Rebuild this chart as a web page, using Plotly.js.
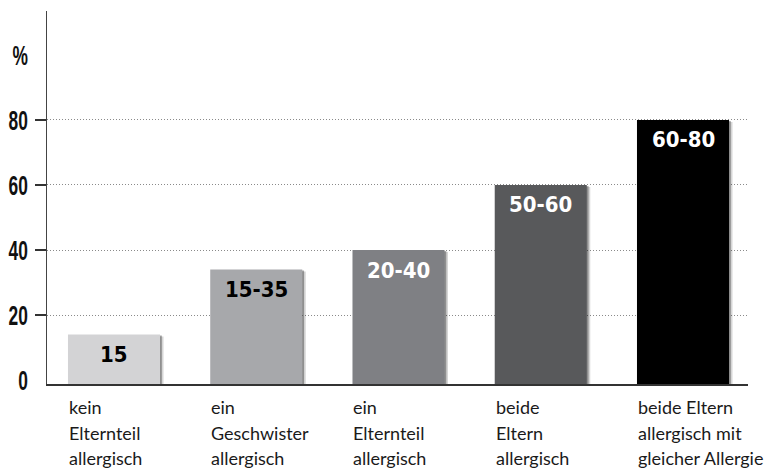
<!DOCTYPE html>
<html>
<head>
<meta charset="utf-8">
<script src="https://cdn.plot.ly/plotly-3.0.1.min.js"></script>
<style>
  html, body { margin: 0; padding: 0; background: #fff; }
  #chart { width: 780px; height: 469px; }
</style>
</head>
<body>
<div id="chart"></div>
<script>
// ---- data ----
const categories = [
  "kein<br>Elternteil<br>allergisch",
  "ein<br>Geschwister<br>allergisch",
  "ein<br>Elternteil<br>allergisch",
  "beide<br>Eltern<br>allergisch",
  "beide Eltern<br>allergisch mit<br>gleicher Allergie"
];
const values = [14, 34, 40, 60, 80];
const barLabels = ["15", "15-35", "20-40", "50-60", "60-80"];
const barColors = ["#d3d3d5", "#a7a8ab", "#7f8084", "#58595b", "#000000"];
const labelColors = ["#000000", "#000000", "#ffffff", "#ffffff", "#ffffff"];
const gridTickVals = [20, 40, 60, 80];
const gridTickText = ["20", "40", "60", "80"];
const extraTickVals = [0, 100];
const extraTickText = ["0", "%"];

// ---- geometry (styles) ----
const xs = values.map((_, i) => i);
const barW = 0.647;
const off = -barW / 2;
const pxX = 1 / 142.25;
const pxY = 1 / 3.25;
const yMin = -1.2, yMax = 113.5;
const shBase = -3;

const shadow1 = {
  type: "bar", x: xs, y: values.map(v => v - 2 * pxY - shBase), base: shBase,
  width: barW, offset: off + 3.5 * pxX,
  marker: { color: "rgba(0,0,0,0.16)", line: { width: 0 } },
  hoverinfo: "skip", showlegend: false
};
const shadow2 = {
  type: "bar", x: xs, y: values.map(v => v - 1 * pxY - shBase), base: shBase,
  width: barW, offset: off + 1.8 * pxX,
  marker: { color: "rgba(0,0,0,0.33)", line: { width: 0 } },
  hoverinfo: "skip", showlegend: false
};
const bars = {
  type: "bar", x: xs, y: values.map(v => v - yMin), base: yMin,
  width: barW, offset: off,
  marker: { color: barColors, line: { width: 0 } },
  hoverinfo: "skip", showlegend: false
};
const dummy = {
  type: "scatter", x: [0], y: [0], yaxis: "y2", mode: "markers",
  marker: { opacity: 0 }, hoverinfo: "skip", showlegend: false
};

const annotations = [];
values.forEach((v, i) => {
  annotations.push({
    x: i, y: v, xref: "x", yref: "y", text: barLabels[i], showarrow: false,
    yanchor: "middle", yshift: -20,
    font: { family: "DejaVu Sans Condensed, sans-serif", size: 22, color: labelColors[i], weight: "bold" }
  });
  categories[i].split("<br>").forEach((line, j) => {
    annotations.push({
      x: i + off, y: 0, xref: "x", yref: "paper", text: line, showarrow: false,
      xanchor: "left", yanchor: "middle", yshift: -23 - j * 25.7, xshift: -1,
      font: { family: "Lato, sans-serif", size: 18, color: "#1a1a1a" }
    });
  });
});

const tickFont = { family: "Liberation Sans, Arial, sans-serif", size: 28, color: "#111", weight: "bold" };

const layout = {
  width: 780, height: 469,
  margin: { l: 47, r: 32, t: 11, b: 85 },
  paper_bgcolor: "#fff", plot_bgcolor: "#fff",
  barmode: "overlay",
  xaxis: {
    range: [(47 - 114) / 142.25, (748 - 114) / 142.25],
    showticklabels: false, ticks: "", showgrid: false, zeroline: false,
    showline: true, linecolor: "#333", linewidth: 1.5
  },
  yaxis: {
    range: [yMin, yMax],
    tickvals: gridTickVals, ticktext: gridTickText,
    ticks: "outside", ticklen: 11, tickwidth: 1.5, tickcolor: "#333",
    ticklabelstandoff: 1,
    tickfont: tickFont,
    showgrid: true, gridcolor: "#8a8a8a", griddash: "1px,2px", gridwidth: 1,
    zeroline: false, showline: true, linecolor: "#444", linewidth: 1.5
  },
  yaxis2: {
    overlaying: "y", side: "left", range: [yMin, yMax],
    tickvals: extraTickVals, ticktext: extraTickText,
    ticks: "", ticklabelstandoff: 18,
    tickfont: tickFont,
    showgrid: false, zeroline: false, showline: false
  },
  annotations: annotations
};

Plotly.newPlot("chart", [shadow1, shadow2, bars, dummy], layout, { staticPlot: true, displayModeBar: false })
  .then(gd => {
    gd.querySelectorAll(".ytick text, .y2tick text").forEach(t => {
      const x = parseFloat(t.getAttribute("x") || "0");
      const tr = t.getAttribute("transform") || "";
      t.setAttribute("transform", tr + " translate(" + x + ",0) scale(0.62,1) translate(" + (-x) + ",0)");
    });
  });
</script>
</body>
</html>
